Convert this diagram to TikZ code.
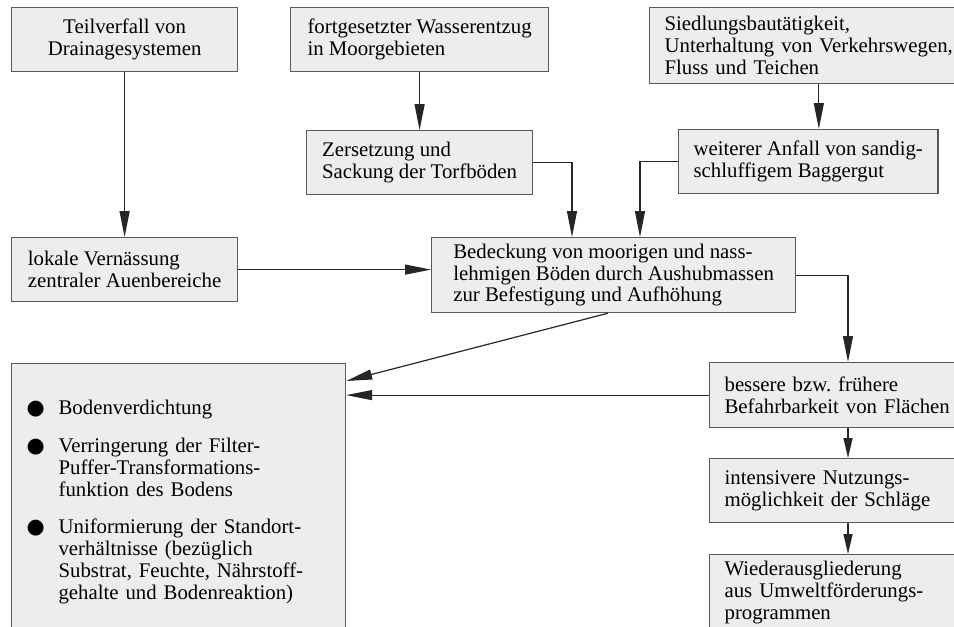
\documentclass[tikz,border=0pt]{standalone}
\usepackage{fontspec}
\setmainfont{Liberation Serif}
\newfontfamily\symbfont{DejaVu Sans}
\usepackage{tikz}
\usetikzlibrary{arrows.meta}
\newcommand{\pkt}{{\symbfont ●}}

\begin{document}
\begin{tikzpicture}[x=0.5pt,y=-0.5pt,
    box/.style={draw=black!65,fill=black!7,line width=0.6pt,anchor=north west,align=left,
      inner xsep=7.5pt,inner ysep=0pt,font=\fontsize{10.4}{10.9}\selectfont},
    arr/.style={draw=black!85,line width=0.6pt,-{Triangle[length=13pt,width=5pt]}},
    kurz/.style={arr,-{Triangle[length=10pt,width=4.5pt]}}]
  \useasboundingbox (0,0) rectangle (954,627);
  \clip (0,0) rectangle (954,627);

  \node[box,minimum width=113pt,minimum height=32pt,align=center] (teil) at (11,7) {Teilverfall von\\Drainagesystemen};
  \node[box,minimum width=129pt,minimum height=32pt] (wasser) at (290,7) {fortgesetzter Wasserentzug\\in Moorgebieten};
  \node[box,text width=150pt,minimum height=38pt] (siedl) at (649,7) {Siedlungsbautätigkeit,\\Unterhaltung von Verkehrswegen,\\Fluss und Teichen};
  \node[box,minimum width=113pt,minimum height=32pt] (zers) at (306,130) {Zersetzung und\\Sackung der Torfböden};
  \node[box,minimum width=129.5pt,minimum height=32pt] (anfall) at (678,129) {weiterer Anfall von sandig-\\schluffigem Baggergut};
  \node[box,minimum width=113pt,minimum height=32pt] (vern) at (11,237) {lokale Vernässung\\zentraler Auenbereiche};
  \node[box,minimum width=182pt,minimum height=37.5pt] (bedeck) at (431,237) {Bedeckung von moorigen und nass-\\lehmigen Böden durch Aushubmassen\\zur Befestigung und Aufhöhung};
  \node[box,text width=118pt,minimum height=32.5pt] (befahr) at (709,362) {bessere bzw.\ frühere\\Befahrbarkeit von Flächen};
  \node[box,text width=118pt,minimum height=32pt] (nutz) at (709,458) {intensivere Nutzungs-\\möglichkeit der Schläge};
  \node[box,text width=118pt,minimum height=38pt] (wieder) at (709,554) {Wiederausgliederung\\aus Umweltförderungs-\\programmen};
  \node[box,text width=152pt,minimum height=139pt] (folgen) at (11,363) {%
    \begin{tabular}{@{}p{16pt}@{}l@{}}
      \pkt & Bodenverdichtung\\[8pt]
      \pkt & Verringerung der Filter-\\
           & Puffer-Transformations-\\
           & funktion des Bodens\\[8pt]
      \pkt & Uniformierung der Standort-\\
           & verhältnisse (bezüglich\\
           & Substrat, Feuchte, Nährstoff-\\
           & gehalte und Bodenreaktion)
    \end{tabular}};

  \coordinate (s1) at ([xshift=5.3pt]anfall.north);
  \draw[arr] (teil) -- (vern);
  \draw[arr] (wasser.south) -- (wasser.south |- zers.north);
  \draw[arr] (s1 |- siedl.south) -- (s1);
  \draw[arr] (zers.east) -| ([xshift=70.5pt]bedeck.north west);
  \draw[arr] (anfall.west) -| ([xshift=104.5pt]bedeck.north west);
  \draw[arr] (vern.east) -- (vern.east -| bedeck.west);
  \draw[arr] (bedeck.east) -| ([xshift=69.5pt]befahr.north west);
  \draw[kurz] ([xshift=69.5pt]befahr.south west) -- ([xshift=69.5pt]nutz.north west);
  \draw[kurz] ([xshift=69.5pt]nutz.south west) -- ([xshift=69.5pt]wieder.north west);
  \draw[arr] (befahr.west) -- (befahr.west -| folgen.east);
  \draw[arr] ([xshift=88.5pt]bedeck.south west) -- ([yshift=-9pt]folgen.north east);
\end{tikzpicture}
\end{document}
